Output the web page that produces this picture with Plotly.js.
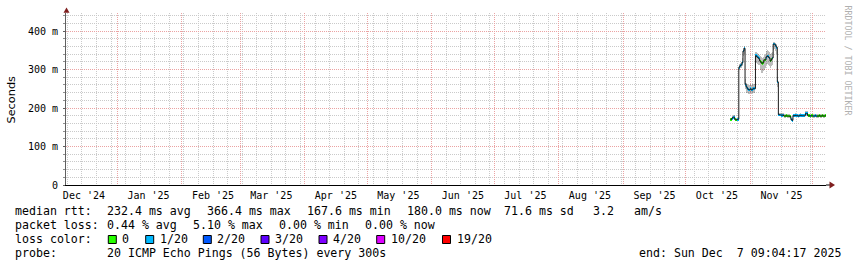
<!DOCTYPE html>
<html><head><meta charset="utf-8">
<script src="https://cdn.plot.ly/plotly-3.0.1.min.js"></script>
<style>html,body{margin:0;padding:0;background:#fff;} #chart{width:857px;height:267px;}</style>
</head><body><div id="chart"></div>
<script>
// ---- data ----
const sampleTimes = [
 '2025-10-22 12:00','2025-10-23 00:00','2025-10-23 12:00','2025-10-24 00:00','2025-10-24 12:00','2025-10-25 00:00','2025-10-25 12:00','2025-10-26 00:00',
 '2025-10-26 12:00','2025-10-27 00:00','2025-10-27 12:00','2025-10-28 00:00','2025-10-28 12:00','2025-10-29 00:00',
 '2025-10-29 12:00','2025-10-30 00:00','2025-10-30 12:00','2025-10-31 00:00','2025-10-31 12:00','2025-11-01 00:00','2025-11-01 12:00','2025-11-02 00:00','2025-11-02 12:00','2025-11-03 00:00',
 '2025-11-03 12:00','2025-11-04 00:00','2025-11-04 12:00','2025-11-05 00:00','2025-11-05 12:00','2025-11-06 00:00','2025-11-06 12:00','2025-11-07 00:00','2025-11-07 12:00','2025-11-08 00:00','2025-11-08 12:00','2025-11-09 00:00','2025-11-09 12:00','2025-11-10 00:00','2025-11-10 12:00','2025-11-11 00:00','2025-11-11 12:00',
 '2025-11-12 00:00','2025-11-12 12:00','2025-11-13 00:00','2025-11-13 12:00','2025-11-14 00:00',
 '2025-11-14 12:00','2025-11-15 00:00','2025-11-15 12:00','2025-11-16 00:00','2025-11-16 12:00','2025-11-17 00:00','2025-11-17 12:00','2025-11-18 00:00','2025-11-18 12:00','2025-11-19 00:00','2025-11-19 12:00','2025-11-20 00:00','2025-11-20 12:00','2025-11-21 00:00',
 '2025-11-21 12:00','2025-11-22 00:00','2025-11-22 12:00','2025-11-23 00:00','2025-11-23 12:00','2025-11-24 00:00','2025-11-24 12:00','2025-11-25 00:00','2025-11-25 12:00','2025-11-26 00:00','2025-11-26 12:00','2025-11-27 00:00',
 '2025-11-27 12:00','2025-11-28 00:00',
 '2025-11-28 12:00','2025-11-29 00:00','2025-11-29 12:00','2025-11-30 00:00','2025-11-30 12:00','2025-12-01 00:00',
 '2025-12-01 12:00','2025-12-02 00:00','2025-12-02 12:00',
 '2025-12-03 00:00','2025-12-03 12:00','2025-12-04 00:00','2025-12-04 12:00','2025-12-05 00:00','2025-12-05 12:00','2025-12-06 00:00','2025-12-06 12:00','2025-12-07 00:00'
];
const medianMs = [
 170,173,176,176,170,169,170,171,
 306,310,312,318,348,355,
 262,255,250,248,247,250,247,249,251,250,
 336,333,331,328,322,318,316,318,325,325,332,335,333,330,322,326,330,
 366,366,362,358,268,
 183,182,182,181,182,179,179,180,179,179,179,178,170,168,
 180,180,181,180,180,179,180,181,180,180,180,180,
 186,186,
 180,180,179,180,180,179,
 179,180,179,
 179,179,180,179,179,180,179,179,180
];
const lossCount = [
 0,1,1,1,0,0,1,1,
 1,1,1,1,1,1,
 1,1,1,1,1,1,1,1,1,1,
 1,1,1,1,0,0,0,0,0,0,1,1,1,1,0,0,1,
 1,1,1,1,1,
 1,1,1,1,1,0,0,0,0,0,0,0,1,1,
 1,1,1,1,1,1,1,1,1,1,1,1,
 1,1,
 0,0,1,0,0,1,
 1,1,1,
 0,0,0,0,0,0,0,0,0
];
const smokeLoMs = [
 166,169,171,172,166,165,166,167,
 298,303,305,308,335,340,
 250,240,238,236,237,238,236,238,239,240,
 318,315,312,312,300,292,290,295,300,305,312,315,312,310,305,308,312,
 350,352,348,340,255,
 179,178,178,177,178,175,175,176,175,175,175,174,166,164,
 176,176,177,176,176,175,176,177,176,176,176,176,
 181,181,
 176,176,175,176,176,175,
 175,176,175,
 175,175,176,175,175,176,175,175,176
];
const smokeHiMs = [
 175,178,181,181,175,174,175,176,
 315,318,320,330,356,362,
 275,265,262,260,261,262,260,262,262,263,
 345,342,340,338,335,332,330,332,338,340,348,350,348,345,340,342,345,
 372,372,368,365,280,
 188,187,187,186,187,184,184,185,184,184,184,183,175,173,
 185,185,186,185,185,184,185,186,185,185,185,185,
 191,191,
 185,185,184,185,185,184,
 184,185,184,
 184,184,185,184,184,185,184,184,185
];
const graphStart = '2024-12-07 09:04:17';
const graphEnd = '2025-12-07 09:04:17';
const sampleEnd = '2025-12-07 12:00';
const monthLabelDates = ['2024-12-16','2025-01-16','2025-02-16','2025-03-16','2025-04-16','2025-05-16','2025-06-16','2025-07-16','2025-08-16','2025-09-16','2025-10-16','2025-11-16'];
const monthLabels = ["Dec '24","Jan '25","Feb '25","Mar '25","Apr '25","May '25","Jun '25","Jul '25","Aug '25","Sep '25","Oct '25","Nov '25"];
const monthStarts = ['2025-01-01','2025-02-01','2025-03-01','2025-04-01','2025-05-01','2025-06-01','2025-07-01','2025-08-01','2025-09-01','2025-10-01','2025-11-01','2025-12-01'];
const yTickVals = [0,100,200,300,400];
const yTickText = ['0','100 m','200 m','300 m','400 m'];
const yMinorVals = [20,40,60,80,120,140,160,180,220,240,260,280,320,340,360,380,420,440];
const lossLevels = [0,1,2,3,4,10,19];
const lossLabels = ['0','1/20','2/20','3/20','4/20','10/20','19/20'];
const lossColors = ['#26ff00','#00b8ff','#0059ff','#5e00ff','#7e00ff','#dd00ff','#ff0000'];
const rttStats = ['median rtt:','232.4 ms avg','366.4 ms max','167.6 ms min','180.0 ms now','71.6 ms sd','3.2','am/s'];
const lossStats = ['packet loss:','0.44 % avg','5.10 % max','0.00 % min','0.00 % now'];
const probeText = ['probe:','20 ICMP Echo Pings (56 Bytes) every 300s'];
const endText = 'end: Sun Dec  7 09:04:17 2025';

// ---- layout helpers (pixel -> paper) ----
const L = 66, R = 826, T = 13, B = 185;
const px = x => (x - L) / (R - L);
const py = y => (B - y) / (B - T);
const STEP = 12 * 3600 * 1000;
const mono = 'DejaVu Sans Mono, monospace';
const nb = s => s.replace(/ /g, '\u00a0');

function colorFor(l){ const i = lossLevels.indexOf(l); return lossColors[i < 0 ? 0 : i]; }

const smoke = {
  type:'bar', x: sampleTimes, base: smokeLoMs, y: smokeHiMs.map((h,i)=>h - smokeLoMs[i]),
  width: STEP, offset: 0, marker:{color:'rgba(0,0,0,0.26)', line:{width:0}},
  xaxis:'x', yaxis:'y', hoverinfo:'skip', showlegend:false
};
const band = {
  type:'bar', x: sampleTimes, base: medianMs.map(m=>m-3.6), y: medianMs.map(()=>7.2),
  width: STEP, offset: 0, marker:{color: lossCount.map(colorFor), line:{width:0}},
  xaxis:'x2', yaxis:'y', hoverinfo:'skip', showlegend:false
};
const medLine = {
  type:'scatter', mode:'lines', x: sampleTimes.concat([sampleEnd]), y: medianMs.concat([medianMs[medianMs.length-1]]),
  line:{color:'#1a1a1a', width:1, shape:'hv'}, xaxis:'x2', yaxis:'y', hoverinfo:'skip', showlegend:false
};

const minorGrid = '#cacaca';
const majorGrid = '#eba3a3';

const annotations = [];
function txt(s, x, y, opts){
  annotations.push(Object.assign({text: nb(s), xref:'paper', yref:'paper', x: px(x), y: py(y), xanchor:'left', yanchor:'middle',
    showarrow:false, borderpad:0, borderwidth:0, font:{family:mono, size:11.6, color:'#000'}}, opts||{}));
}
const rttX = [16,107.3,207.3,307.3,407.3,504.3,594,635];
rttStats.forEach((s,i)=>txt(s, rttX[i]-0.7, 211.2));
const lossX = [16,107.3,193.3,279.3,365.7];
lossStats.forEach((s,i)=>txt(s, lossX[i]-0.7, 225));
txt('loss color:', 15.3, 239);
const boxX = [108.3,145.7,203.3,261,319,376.7,442.5];
const shapes = [];
lossLabels.forEach((s,i)=>{
  txt(s, boxX[i]+14, 239);
  shapes.push({type:'rect', xref:'paper', yref:'paper', x0:px(boxX[i]), x1:px(boxX[i]+8), y0:py(243.5), y1:py(235.5),
    line:{color:'#000', width:1}, fillcolor: lossColors[i]});
});
txt(probeText[0], 15.3, 253);
txt(probeText[1], 106.6, 253);
txt(endText, 841, 253, {xanchor:'right'});
// axis title and watermark
annotations.push({text:'Seconds', xref:'paper', yref:'paper', x:px(10.5), y:py(99), xanchor:'center', yanchor:'middle', textangle:-90,
  showarrow:false, borderpad:0, font:{family:'DejaVu Sans, sans-serif', size:11.3, color:'#000'}});
annotations.push({text:nb('RRDTOOL / TOBI OETIKER'), xref:'paper', yref:'paper', x:px(847.5), y:py(60), xanchor:'center', yanchor:'middle', textangle:90,
  showarrow:false, borderpad:0, font:{family:mono, size:8.3, color:'#b0b0b0'}});

// arrows and axis extension
const pathOf = pts => 'M ' + pts.map(p=>px(p[0])+','+py(p[1])).join(' L ') + ' Z';
shapes.push({type:'path', xref:'paper', yref:'paper', path: pathOf([[63.5,12.8],[69.5,12.8],[66.5,7.5]]), fillcolor:'#7f1f1f', line:{width:0}});
shapes.push({type:'line', xref:'paper', yref:'paper', x0:px(826), x1:px(830), y0:py(185), y1:py(185), line:{color:'#000', width:1}});
shapes.push({type:'path', xref:'paper', yref:'paper', path: pathOf([[829.5,181.5],[829.5,188.5],[835,185]]), fillcolor:'#7f1f1f', line:{width:0}});

const layout = {
  width:857, height:267, margin:{l:L, r:857-R, t:T, b:267-B, pad:0},
  paper_bgcolor:'#fff', plot_bgcolor:'#fff', barmode:'overlay', bargap:0, showlegend:false,
  xaxis:{type:'date', range:[graphStart, graphEnd], tickmode:'array', tickvals:monthLabelDates, ticktext:monthLabels,
    showgrid:false, zeroline:false, showline:true, linecolor:'#000', linewidth:1, ticks:'', ticklabelstandoff:1,
    tickfont:{family:mono, size:10, color:'#000'},
    minor:{tickmode:'linear', tick0:'2024-12-08', dtick:7*24*3600*1000, showgrid:true, gridcolor:minorGrid, griddash:'1px,1px', gridwidth:1, ticks:''}},
  xaxis2:{type:'date', overlaying:'x', anchor:'y', side:'bottom', range:[graphStart, graphEnd], tickmode:'array', tickvals:monthStarts,
    showticklabels:false, showgrid:true, gridcolor:majorGrid, griddash:'1px,1px', gridwidth:1, zeroline:false, showline:false, ticks:''},
  yaxis:{range:[0, 446.8], tickmode:'array', tickvals:yTickVals, ticktext:yTickText,
    showgrid:true, gridcolor:majorGrid, griddash:'1px,1px', gridwidth:1, zeroline:false, showline:true, linecolor:'#606060', linewidth:1,
    ticks:'outside', ticklen:2, tickcolor:'#606060', ticklabelstandoff:3, tickfont:{family:mono, size:10, color:'#000'},
    minor:{tickmode:'array', tickvals:yMinorVals, showgrid:true, gridcolor:minorGrid, griddash:'1px,1px', gridwidth:1, ticks:'outside', ticklen:2, tickcolor:'#909090'}},
  annotations: annotations, shapes: shapes
};
Plotly.newPlot('chart', [smoke, band, medLine], layout, {staticPlot:true, displayModeBar:false});
</script>
</body></html>
